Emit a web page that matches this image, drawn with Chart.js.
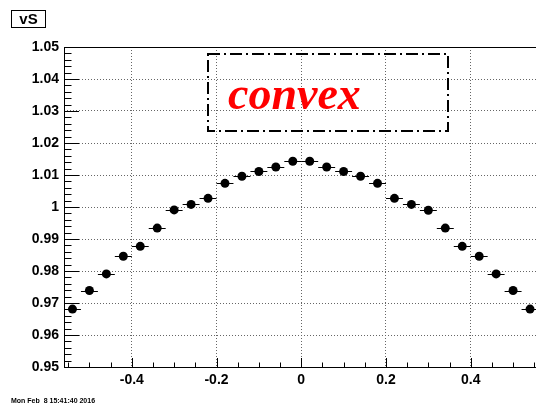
<!DOCTYPE html>
<html>
<head>
<meta charset="utf-8">
<script src="https://cdn.jsdelivr.net/npm/chart.js@4.4.1/dist/chart.umd.min.js"></script>
<style>
  html, body { margin: 0; padding: 0; background: #fff; overflow: hidden; }
  /* the frame's right edge sits at the window edge, so the canvas runs a bit wider */
  #wrap { width: 543px; height: 405px; position: relative; }
</style>
</head>
<body>
<div id="wrap"><canvas id="c"></canvas></div>
<script>
// bin centres (bin width 0.04) and measured vS values
const binCenters = [
  -0.54, -0.50, -0.46, -0.42, -0.38, -0.34, -0.30, -0.26, -0.22, -0.18, -0.14, -0.10, -0.06, -0.02,
   0.02,  0.06,  0.10,  0.14,  0.18,  0.22,  0.26,  0.30,  0.34,  0.38,  0.42,  0.46,  0.50,  0.54
]
const vsValues = [
  0.9681, 0.9739, 0.9791, 0.9846, 0.9877, 0.9934, 0.9991, 1.0008, 1.0027, 1.0074, 1.0096, 1.0111, 1.0125, 1.0143,
  1.0143, 1.0125, 1.0111, 1.0096, 1.0074, 1.0027, 1.0008, 0.9990, 0.9934, 0.9877, 0.9846, 0.9791, 0.9739, 0.9681
]
const binHalfWidth = 0.02

const xTicks = [-0.4, -0.2, 0, 0.2, 0.4]
const yTicks = [0.95, 0.96, 0.97, 0.98, 0.99, 1.00, 1.01, 1.02, 1.03, 1.04, 1.05]
const xMinorStep = 0.05
const yMinorStep = 0.002

const titleText = "vS"
const labelText = "convex"
const dateText = "Mon Feb  8 15:41:40 2016"

const tickFont = { family: "'Liberation Sans', Arial, sans-serif", size: 14, weight: 'bold' }

// ROOT-like frame, inward ticks, x error bars and annotations
const rootStyle = {
  id: 'rootStyle',
  beforeDatasetsDraw(chart) {
    const { ctx, chartArea: a, scales: { x, y } } = chart
    ctx.save()
    ctx.strokeStyle = '#000'
    ctx.lineWidth = 1

    // frame
    ctx.beginPath()
    ctx.moveTo(a.left + 0.5, a.bottom + 0.5)
    ctx.lineTo(a.left + 0.5, a.top + 0.5)
    ctx.lineTo(a.right + 0.5, a.top + 0.5)
    ctx.moveTo(a.left, a.bottom + 0.5)
    ctx.lineTo(a.right, a.bottom + 0.5)
    ctx.stroke()

    // x ticks (major + minor, pointing up)
    ctx.beginPath()
    for (let i = Math.ceil(x.min / xMinorStep); i * xMinorStep <= x.max + 1e-9; i++) {
      const v = i * xMinorStep
      const px = Math.round(x.getPixelForValue(v)) + 0.5
      const major = Math.abs(v / 0.2 - Math.round(v / 0.2)) < 1e-6
      ctx.moveTo(px, a.bottom)
      ctx.lineTo(px, a.bottom - (major ? 9 : 4.5))
    }
    // y ticks (major + minor, pointing right)
    for (let i = Math.round(y.min / yMinorStep); i * yMinorStep <= y.max + 1e-9; i++) {
      const v = i * yMinorStep
      const py = Math.round(y.getPixelForValue(v)) + 0.5
      const major = i % 5 === 0
      ctx.moveTo(a.left, py)
      ctx.lineTo(a.left + (major ? 15 : 7.5), py)
    }
    ctx.stroke()

    // horizontal error bars = bin width
    ctx.beginPath()
    binCenters.forEach((c, i) => {
      const py = Math.round(y.getPixelForValue(vsValues[i])) + 0.5
      ctx.moveTo(x.getPixelForValue(c - binHalfWidth), py)
      ctx.lineTo(x.getPixelForValue(c + binHalfWidth), py)
    })
    ctx.stroke()
    ctx.restore()
  },
  afterDraw(chart) {
    const { ctx } = chart
    ctx.save()

    // title box
    ctx.fillStyle = '#000'
    ctx.strokeStyle = '#000'
    ctx.lineWidth = 1
    ctx.strokeRect(11.5, 10.5, 34, 17)
    ctx.font = "bold 15px 'Liberation Sans', Arial, sans-serif"
    ctx.textAlign = 'center'
    ctx.textBaseline = 'middle'
    ctx.fillText(titleText, 28.5, 19.5)

    // dash-dot pave
    ctx.lineWidth = 2
    ctx.setLineDash([12, 4, 2, 4])
    ctx.strokeRect(208, 54, 240, 77)
    ctx.setLineDash([])

    ctx.fillStyle = '#ff0000'
    ctx.font = "italic bold 46px 'Liberation Serif', 'Times New Roman', serif"
    ctx.textAlign = 'left'
    ctx.textBaseline = 'alphabetic'
    ctx.fillText(labelText, 228, 109)

    // date stamp
    ctx.fillStyle = '#000'
    ctx.font = "bold 7px 'Liberation Sans', Arial, sans-serif"
    ctx.textBaseline = 'middle'
    ctx.fillText(dateText, 11, 401)
    ctx.restore()
  }
}

new Chart(document.getElementById('c'), {
  type: 'scatter',
  data: {
    datasets: [{
      data: binCenters.map((c, i) => ({ x: c, y: vsValues[i] })),
      backgroundColor: '#000',
      borderColor: '#000',
      pointRadius: 4.5,
      pointHoverRadius: 4.5,
      borderWidth: 0
    }]
  },
  options: {
    responsive: true,
    maintainAspectRatio: false,
    animation: false,
    events: [],
    layout: { padding: { top: 47, right: 0, left: 0, bottom: 0 } },
    plugins: { legend: { display: false }, tooltip: { enabled: false } },
    scales: {
      x: {
        type: 'linear',
        min: -0.56,
        max: 0.56,
        afterBuildTicks: (s) => { s.ticks = xTicks.map(v => ({ value: v })) },
        afterFit: (s) => { s.height = 38 },
        ticks: {
          color: '#000',
          font: tickFont,
          padding: 5,
          maxRotation: 0,
          callback: (v) => String(Math.round(v * 10) / 10)
        },
        grid: { color: '#666', lineWidth: 1, drawTicks: false },
        border: { display: false, dash: [1, 2] }
      },
      y: {
        type: 'linear',
        min: 0.95,
        max: 1.05,
        afterBuildTicks: (s) => { s.ticks = yTicks.map(v => ({ value: v })) },
        afterFit: (s) => { s.width = 64 },
        ticks: {
          color: '#000',
          font: tickFont,
          padding: 5,
          callback: (v) => String(Math.round(v * 100) / 100)
        },
        grid: {
          color: (c) => (c.tick && (Math.abs(c.tick.value - 0.95) < 1e-6 || Math.abs(c.tick.value - 1.05) < 1e-6)) ? 'rgba(0,0,0,0)' : '#666',
          lineWidth: 1,
          drawTicks: false
        },
        border: { display: false, dash: [1, 2] }
      }
    }
  },
  plugins: [rootStyle]
})
</script>
</body>
</html>
